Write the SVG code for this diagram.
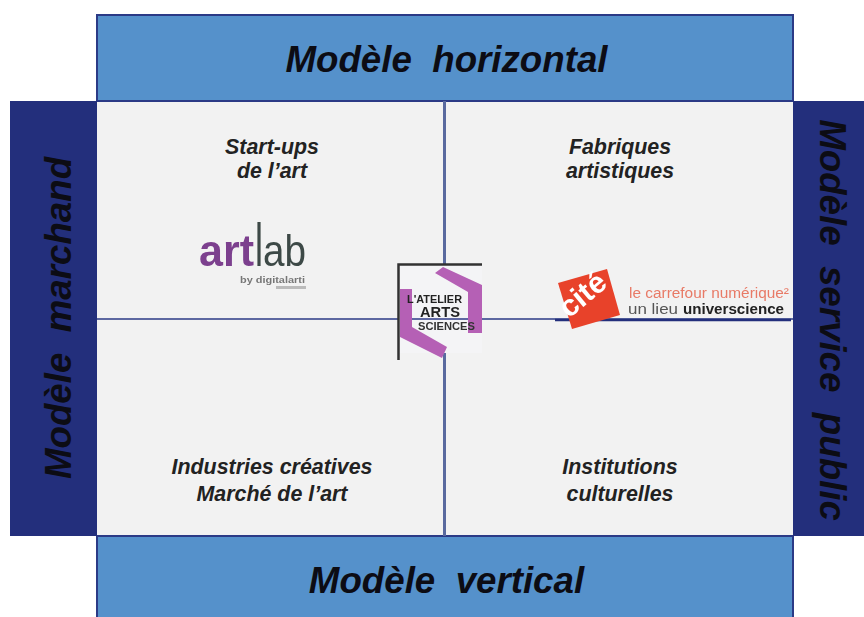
<svg xmlns="http://www.w3.org/2000/svg" width="864" height="617" viewBox="0 0 864 617">
<defs><filter id="soft" x="-5%" y="-5%" width="110%" height="110%"><feGaussianBlur stdDeviation="0.7"/></filter></defs>
<style>
.h{font-family:"Liberation Sans",Arial,sans-serif;font-style:italic;font-weight:700;font-size:36.700px;fill:#0c0c14;text-anchor:middle}
.c{font-family:"Liberation Sans",Arial,sans-serif;font-style:italic;font-weight:700;font-size:21.400px;fill:#222;text-anchor:middle}
.blue{fill:#5591cb;stroke:#2b3a86;stroke-width:2}
.navy{fill:#232f7c}
.l{font-family:"Liberation Sans",Arial,sans-serif}
</style>
<rect width="864" height="617" fill="#fff"/>
<g id="panel"><rect x="97" y="101" width="696" height="435" fill="#f2f2f2"/></g>
<g id="top"><rect class="blue" x="97" y="15" width="696" height="86"/><text class="h" x="446.500" y="72" xml:space="preserve">Modèle  horizontal</text></g>
<g id="bottom"><rect class="blue" x="97" y="536" width="696" height="90"/><text class="h" x="446.500" y="593" xml:space="preserve">Modèle  vertical</text></g>
<g id="left"><rect class="navy" x="10" y="101" width="87" height="435"/><text class="h" transform="translate(71 318) rotate(-90)" xml:space="preserve">Modèle  marchand</text></g>
<g id="right"><rect class="navy" x="793" y="101" width="71" height="435"/><text class="h" transform="translate(820 320) rotate(90)" xml:space="preserve">Modèle  service  public</text></g>
<g id="connectors" fill="none">
<line x1="444.500" y1="101" x2="444.500" y2="536" stroke="#5a6a9f" stroke-width="3"/>
<line x1="97" y1="319" x2="793" y2="319" stroke="#2b3a86" stroke-width="1.500"/>
<line x1="555" y1="320" x2="791" y2="320" stroke="#232f7c" stroke-width="2.500"/>
</g>
<g id="q1"><text class="c" x="272" y="154">Start-ups</text><text class="c" x="272" y="178">de l’art</text></g>
<g id="q2"><text class="c" x="620" y="154">Fabriques</text><text class="c" x="620" y="178">artistiques</text></g>
<g id="q3"><text class="c" x="272" y="474">Industries créatives</text><text class="c" x="272" y="501">Marché de l’art</text></g>
<g id="q4"><text class="c" x="620" y="474">Institutions</text><text class="c" x="620" y="501">culturelles</text></g>
<g id="artlab" filter="url(#soft)">
<text class="l" x="199" y="266" font-size="44" font-weight="700" fill="#7c3f8e" textLength="55" lengthAdjust="spacingAndGlyphs">art</text>
<text class="l" x="255" y="266" font-size="62" fill="#3d4a47" textLength="8" lengthAdjust="spacingAndGlyphs">l</text>
<text class="l" x="263" y="266" font-size="44" fill="#3d4a47" textLength="43" lengthAdjust="spacingAndGlyphs">ab</text>
<text class="l" x="240" y="283" font-size="9.500" font-weight="700" fill="#777" textLength="65" lengthAdjust="spacingAndGlyphs">by digitalarti</text>
<rect x="276" y="286" width="30" height="3" fill="#bbb"/>
</g>
<g id="atelier">
<rect x="398" y="265" width="84" height="88" fill="#f4f4f6"/>
<g filter="url(#soft)">
<path d="M398.500 360V264.500H482" fill="none" stroke="#333" stroke-width="2.500"/>
<path d="M435 273L443 267L482 285V333H468V292ZM400 289H412V327L447 347L442 358L400 337Z" fill="#b561b5"/>
<line x1="412" y1="319" x2="468" y2="319" stroke="#2b3a86" stroke-width="1.500"/>
<text class="l" x="407" y="303" font-size="11" font-weight="700" fill="#222" textLength="55" lengthAdjust="spacingAndGlyphs">L'ATELIER</text>
<text class="l" x="420" y="317" font-size="14" font-weight="700" fill="#222" textLength="40" lengthAdjust="spacingAndGlyphs">ARTS</text>
<text class="l" x="418" y="330" font-size="11" font-weight="700" fill="#333" textLength="57" lengthAdjust="spacingAndGlyphs">SCIENCES</text>
</g>
</g>
<g id="cite" filter="url(#soft)">
<polygon points="558,283 607,269 620,315 572,329" fill="#e8432b"/>
<text class="l" transform="translate(569 319) rotate(-40)" font-size="30" font-weight="700" fill="#fff" textLength="52" lengthAdjust="spacingAndGlyphs">cité</text>
<text class="l" x="629" y="298" font-size="14" fill="#e87a66" textLength="160" lengthAdjust="spacingAndGlyphs">le carrefour numérique²</text>
<text class="l" x="628" y="314" font-size="15" fill="#555" textLength="50" lengthAdjust="spacingAndGlyphs">un lieu</text>
<text class="l" x="683" y="314" font-size="14" font-weight="700" fill="#222" textLength="101" lengthAdjust="spacingAndGlyphs">universcience</text>
</g>
</svg>
